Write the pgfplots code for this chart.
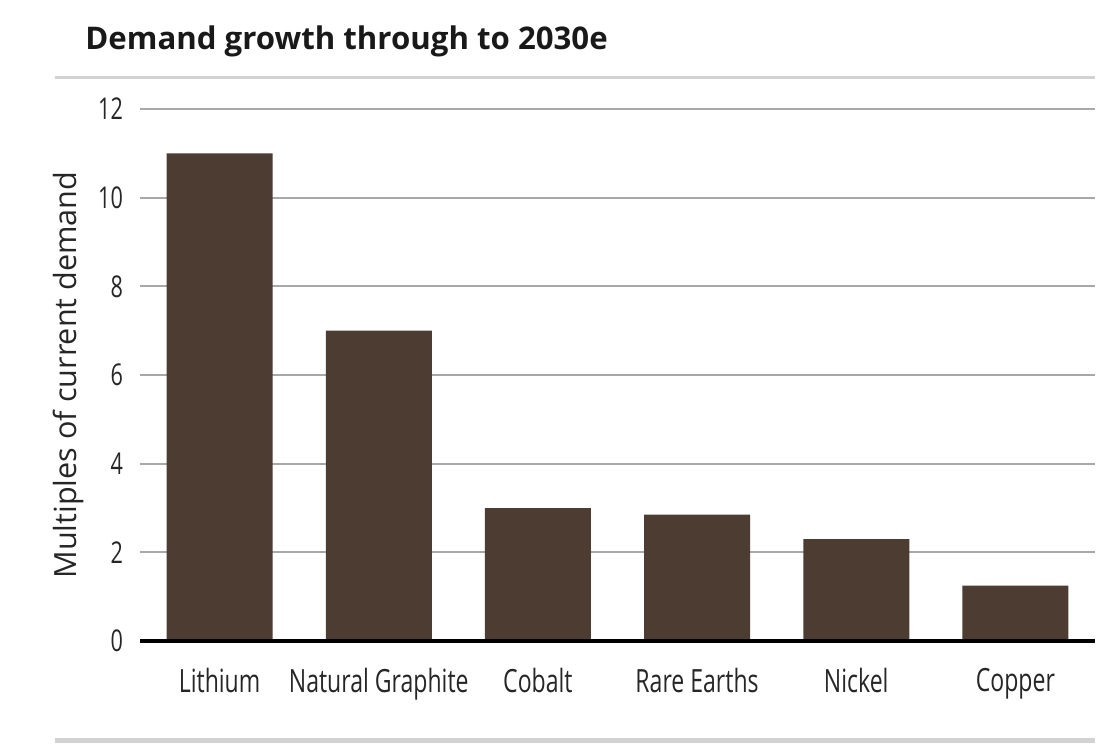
\documentclass[border=0pt]{standalone}
\usepackage{fontspec}
\setmainfont{Open Sans}
\newfontfamily\condfont[FakeStretch=0.72]{Open Sans}
\usepackage{pgfplots}
\pgfplotsset{compat=1.18}
\definecolor{barbrown}{HTML}{4D3C31}
\definecolor{gridgrey}{HTML}{A8A8A8}
\definecolor{ruleg}{HTML}{D2D2D2}
\definecolor{txt}{HTML}{262626}
\begin{document}
\begin{tikzpicture}[x=1pt,y=1pt]
\useasboundingbox (0,0) rectangle (550.5,372.5);
\draw[ruleg,line width=1.5pt] (27.5,333.5) -- (547.5,333.5);
\draw[ruleg,line width=2.5pt] (27.5,2.5) -- (547.5,2.5);
\node[anchor=west,font=\bfseries\fontsize{15.6}{18}\selectfont,text=black!90,inner sep=0pt] at (42.5,352) {Demand growth through to 2030e};
\begin{axis}[
  at={(70pt,52pt)}, anchor=south west,
  scale only axis, width=477.5pt, height=266pt,
  xmin=-0.5, xmax=5.5, ymin=0, ymax=12,
  ytick={0,2,...,12},
  xtick={0,1,2,3,4,5},
  xticklabels={Lithium,Natural Graphite,Cobalt,Rare Earths,Nickel,Copper},
  /pgf/number format/assume math mode=true,
  xticklabel style={font=\condfont\fontsize{16}{19}\selectfont, text=txt, yshift=-10pt},
  yticklabel style={font=\condfont\fontsize{15}{18}\selectfont, text=txt, xshift=-5pt},
  major tick length=0pt,
  axis line style={draw=none},
  ymajorgrids, grid style={gridgrey, line width=1pt},
  ylabel={Multiples of current demand},
  every axis y label/.style={at={(axis description cs:-0.0754,0.5)}, anchor=center, rotate=90, font=\fontsize{15.3}{18}\selectfont, text=txt},
  clip=false,
]
\addplot[ybar, bar width=53pt, fill=barbrown, draw=none] coordinates {
  (0,11) (1,7) (2,3) (3,2.85) (4,2.3) (5,1.25)
};
\draw[black, line width=2pt] (axis cs:-0.5,0) -- (axis cs:5.5,0);
\end{axis}
\end{tikzpicture}
\end{document}
